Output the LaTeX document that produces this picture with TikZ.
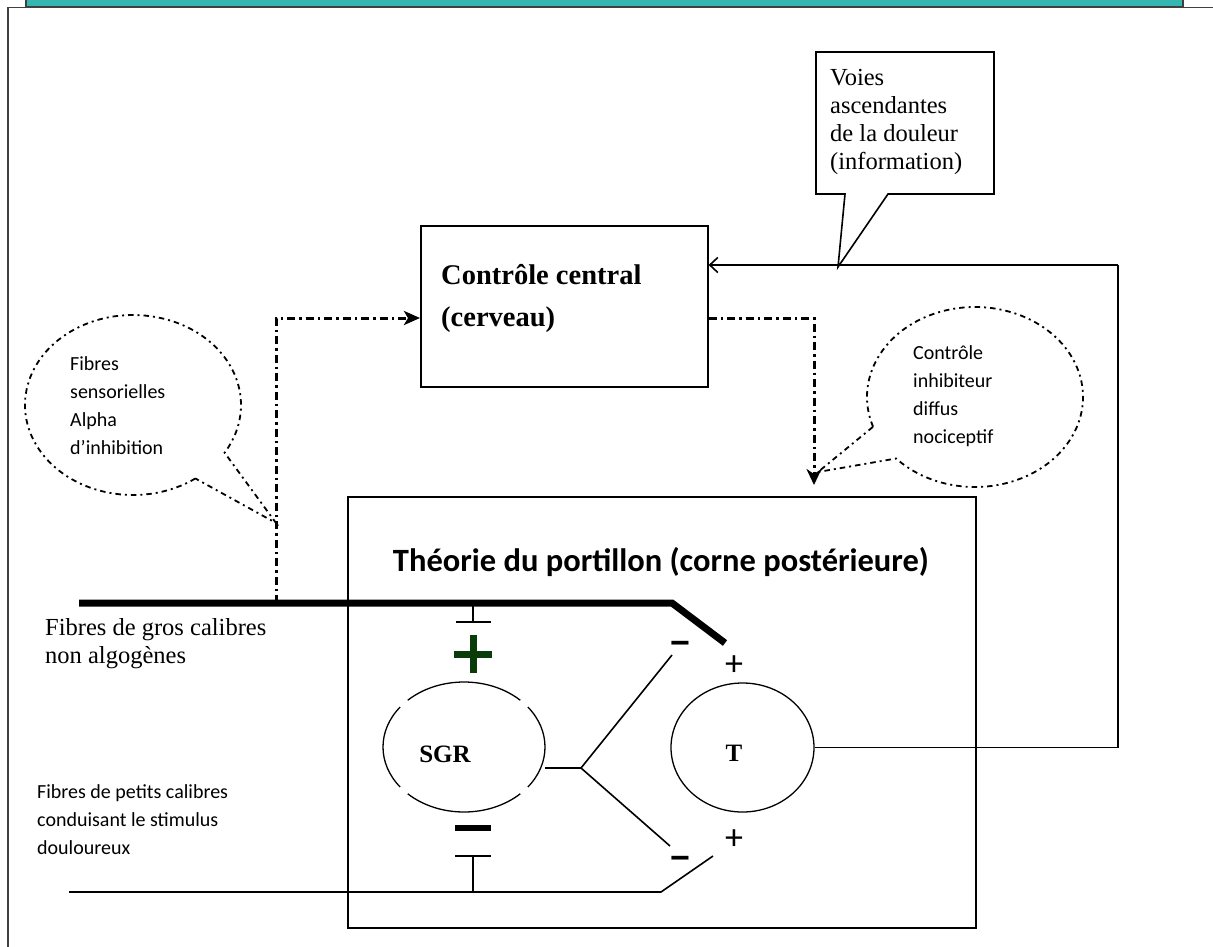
\documentclass[tikz,border=0pt]{standalone}
\usepackage{fontspec}
\setmainfont{Liberation Serif}
\newfontfamily\carlito{Carlito}
\newfontfamily\libsans{Liberation Sans}
\usetikzlibrary{arrows.meta,shapes.geometric}
\definecolor{tealbar}{RGB}{53,182,177}
\definecolor{framegray}{RGB}{64,64,64}
\definecolor{plusgreen}{RGB}{10,60,10}
\begin{document}
\begin{tikzpicture}[x=1pt,y=-1pt,line join=miter,
  thinline/.style={line width=1.6pt,draw=black},
  ddline/.style={line width=3pt,dash pattern=on 8pt off 4pt on 2.5pt off 4pt},
  ddcall/.style={line width=1.8pt,dash pattern=on 5.5pt off 4pt on 2pt off 4pt},
  txtsans/.style={font={\carlito\fontsize{20}{28}\selectfont},anchor=north west,inner sep=0pt,align=left},
  txtserif/.style={font={\fontsize{24.5}{28}\selectfont},anchor=north west,inner sep=0pt,align=left},
  plussign/.style={font={\carlito\fontsize{36}{36}\selectfont},inner sep=0pt},
  minussign/.style={font={\libsans\bfseries\fontsize{34}{34}\selectfont},inner sep=0pt},
  boxnode/.style={draw,thinline,anchor=north west,inner sep=0pt}]
\useasboundingbox (0,0) rectangle (1213,946);
\fill[white] (0,0) rectangle (1213,946);
% page header bar and frame
\filldraw[fill=tealbar,draw=framegray,line width=1.2pt] (26,-3) -- (26,7) -- (1183,7) -- (1183,-3);
\draw[framegray,line width=1.5pt] (8,950) -- (8,7.5) -- (1215,7.5);

% central control box
\node[boxnode,minimum width=287,minimum height=161] (cc) at (420,225) {};
\node[font={\fontsize{28.5}{42}\selectfont\bfseries},anchor=north west,inner sep=0pt,align=left] (cctext) at (441,254.6) {\strut Contrôle central\\(cerveau)};

% gate theory box
\node[boxnode,minimum width=628,minimum height=431] (th) at (347,496) {};
\node[font={\carlito\bfseries\fontsize{32.5}{36}\selectfont},anchor=base,inner sep=0pt] (thtitle) at (661,571) {Théorie du portillon (corne postérieure)};

% callout: Voies ascendantes
\coordinate (vtip) at (838,267);
\draw[thinline,fill=white] (816,52) -- (994,52) -- (994,194) -- (888,194) -- (vtip) -- (845,194) -- (816,194) -- cycle;
\node[txtserif] (vtext) at (830,65.4) {\strut Voies\\ascendantes\\de la douleur\\(information)};

% callout: Fibres sensorielles Alpha
\coordinate (lcc) at (133,405);
\coordinate (lctip) at (276,523);
\draw[ddcall] (lcc) ++(54.7:108 and 90) arc[start angle=54.7,end angle=392,x radius=108,y radius=90] -- (lctip) -- cycle;
\node[txtsans] (lctext) at (70,350.4) {\strut Fibres\\sensorielles\\Alpha\\d’inhibition};

% callout: Controle inhibiteur diffus nociceptif
\coordinate (rcc) at (975,397);
\coordinate (rctip) at (818,472);
\draw[ddcall] (rcc) ++(160.7:108 and 90) arc[start angle=160.7,end angle=496.9,x radius=108,y radius=90] -- (rctip) -- cycle;
\node[txtsans] (rctext) at (913,339.4) {\strut Contrôle\\inhibiteur\\diffus\\nociceptif};

% large fibres (thick)
\coordinate (gA) at (79,603);
\coordinate (gB) at (672,603);
\coordinate (gC) at (725,643);
\draw[line width=7pt] (gA) -- (gB) -- (gC);
\node[txtserif] (gtext) at (45,614) {\fontsize{24.5}{30}\selectfont\strut Fibres de gros calibres\\non algogènes};

% dash-dot connectors
\coordinate (dlb) at (276,603);
\coordinate (dl) at (276,318);
\draw[ddline,-{Stealth[length=16pt,width=14pt,inset=4pt]}] (dlb) -- (dl) -- (dl -| cc.west);
\coordinate (dr) at (814,318);
\coordinate (drtip) at (814,485);
\draw[ddline,-{Stealth[length=16pt,width=15pt,inset=5pt]}] (dr -| cc.east) -- (dr) -- (drtip);

% SGR
\coordinate (sgrc) at (464,747);
\foreach \a/\b in {-38/38,46/134,142/218,226/314}{
  \draw[line width=1.3pt] (sgrc) ++(\a:81 and 65) arc[start angle=\a,end angle=\b,x radius=81,y radius=65];
}
\node[font={\fontsize{25}{25}\selectfont\bfseries},inner sep=0pt] (SGR) at (445,754) {SGR};

% T cell
\node[draw,ellipse,line width=1.3pt,minimum width=143,minimum height=129,inner sep=0pt] (T) at (742.5,747.5) {};
\node[font={\fontsize{25}{25}\selectfont\bfseries},inner sep=0pt] (Tlab) at (734,753) {T};

% inhibition bar from large fibres to SGR
\coordinate (tb1) at (473,603);
\coordinate (tb2) at (473,622);
\draw[thinline] (tb1) -- (tb2);
\draw[thinline] (456,622) -- (491,622);
\fill[plusgreen] (454,650.5) rectangle (492,657.5);
\fill[plusgreen] (469.5,635) rectangle (476.5,673);

% small fibres
\coordinate (sA) at (69,892);
\coordinate (sB) at (661,892);
\coordinate (sC) at (713,856);
\draw[thinline] (sA) -- (sB) -- (sC);
\coordinate (bb1) at (473,892);
\coordinate (bb2) at (473,856);
\draw[thinline] (bb1) -- (bb2);
\draw[thinline] (455,856) -- (491,856);
\fill[black] (455,825) rectangle (491,831);
\node[txtsans] (stext) at (37,778.4) {\strut Fibres de petits calibres\\conduisant le stimulus\\douloureux};

% fork from SGR to T
\coordinate (fk0) at (545,768);
\coordinate (fk) at (581,768);
\coordinate (fkU) at (672,655);
\coordinate (fkD) at (670,846);
\draw[thinline] (fk0) -- (fk) -- (fkU);
\draw[thinline] (fk) -- (fkD);

% signs
\node[minussign] (m1) at (680,648) {−};
\node[minussign] (m2) at (680,863) {−};
\node[plussign] (p1) at (734,666) {+};
\node[plussign] (p2) at (734,840) {+};

% T output to central control
\coordinate (fb1) at (1118,748);
\coordinate (fb2) at (1118,265);
\draw[line width=1.8pt] (T.east) -- (T.east -| fb1) -- (fb2);
\draw[line width=2.8pt,-{Straight Barb[length=8pt,width=15pt,line width=1.6pt]}] (fb2) -- (fb2 -| cc.east);
\end{tikzpicture}
\end{document}
